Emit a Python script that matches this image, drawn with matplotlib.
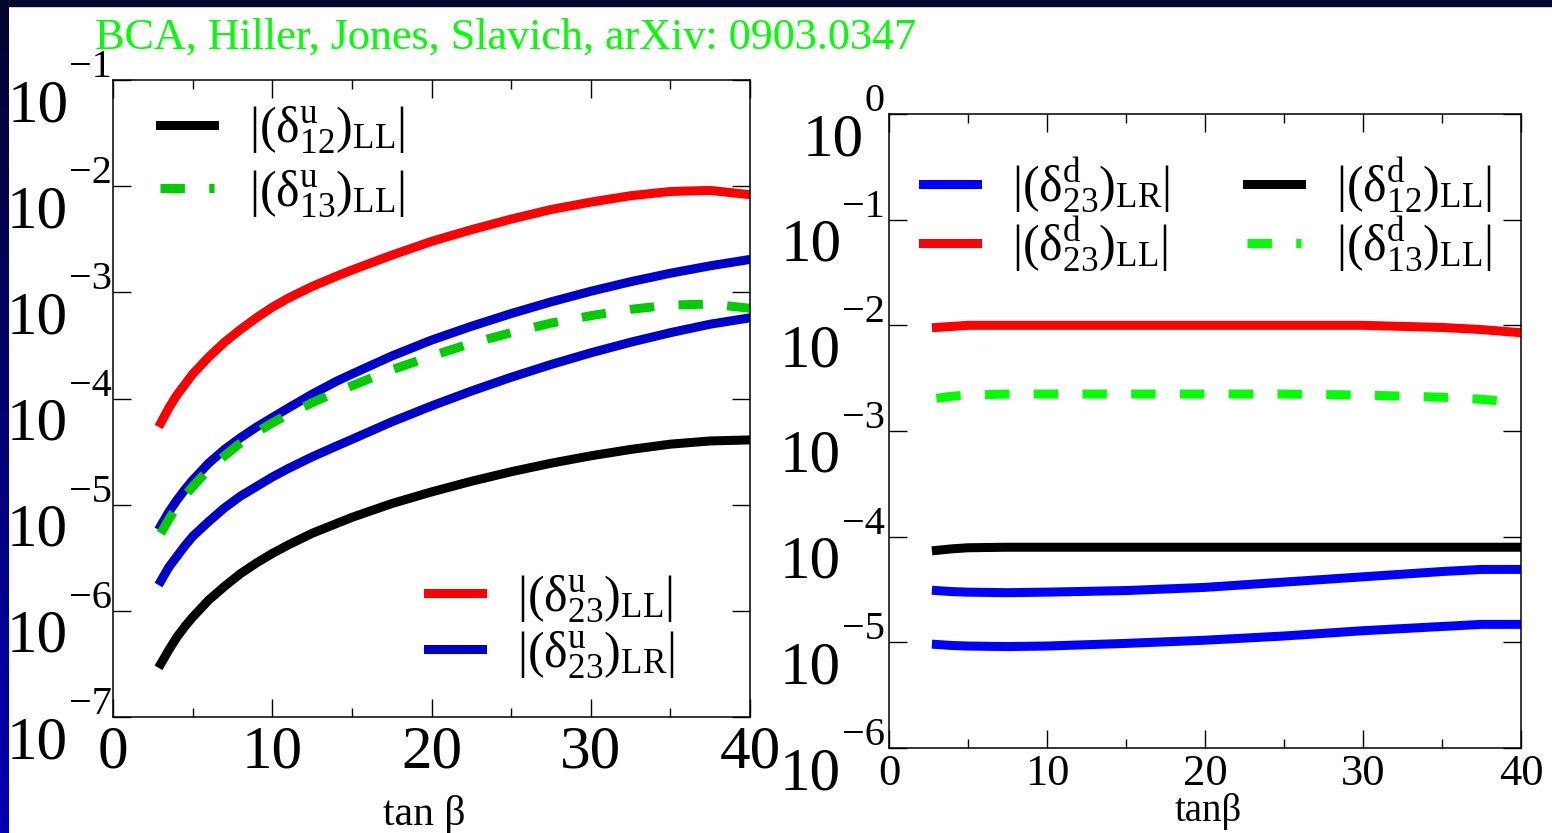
import numpy as np
import matplotlib.pyplot as plt
from matplotlib.patches import Rectangle
from matplotlib.colors import LinearSegmentedColormap
from matplotlib.ticker import MultipleLocator, FixedLocator, NullLocator, NullFormatter

plt.rcParams['font.family'] = 'Liberation Serif'
plt.rcParams['mathtext.fontset'] = 'custom'
plt.rcParams['mathtext.rm'] = 'Liberation Serif'
plt.rcParams['mathtext.it'] = 'Liberation Serif:italic'
plt.rcParams['mathtext.bf'] = 'Liberation Serif:bold'

# ---- left panel: up-squark insertions, log10 |delta| vs tan(beta)
tb_u = [3, 3.5, 4, 4.5, 5, 5.5, 6, 7, 8, 9, 10, 11, 12.5, 14, 15, 17.5, 20,
        22.5, 25, 27.5, 30, 32.5, 35, 37.5, 40]
u23_LL = [-4.23, -4.09, -3.97, -3.87, -3.77, -3.69, -3.61, -3.47, -3.35, -3.24, -3.14,
          -3.055, -2.945, -2.85, -2.79, -2.65, -2.52, -2.41, -2.31, -2.22, -2.15,
          -2.09, -2.05, -2.04, -2.08]
u23_LR_a = [-5.20, -5.07, -4.96, -4.86, -4.77, -4.69, -4.61, -4.48, -4.37, -4.27, -4.18,
            -4.09, -3.96, -3.84, -3.77, -3.60, -3.45, -3.32, -3.20, -3.09, -2.99,
            -2.90, -2.82, -2.75, -2.69]
u23_LR_b = [-5.72, -5.59, -5.49, -5.39, -5.30, -5.23, -5.16, -5.03, -4.92, -4.83, -4.74,
            -4.66, -4.55, -4.45, -4.385, -4.22, -4.07, -3.93, -3.80, -3.68, -3.57,
            -3.47, -3.38, -3.30, -3.24]
u12_LL = [-6.50, -6.37, -6.25, -6.15, -6.06, -5.98, -5.90, -5.77, -5.65, -5.55, -5.46,
          -5.38, -5.27, -5.18, -5.12, -4.99, -4.88, -4.78, -4.69, -4.61, -4.54,
          -4.48, -4.43, -4.40, -4.39]
u13_LL = [-5.27, -5.14, -5.02, -4.92, -4.83, -4.75, -4.67, -4.54, -4.42, -4.32, -4.23,
          -4.15, -4.04, -3.94, -3.88, -3.73, -3.60, -3.48, -3.38, -3.29, -3.22,
          -3.16, -3.12, -3.11, -3.15]

# ---- right panel: down-squark insertions
tb_d = [3, 4, 5, 7.5, 10, 15, 20, 25, 30, 35, 37.5, 40]
d23_LL = [-2.02, -2.01, -2.00, -2.00, -2.00, -2.00, -2.00, -2.00, -2.00, -2.02, -2.04, -2.07]
d13_LL = [-2.69, -2.67, -2.66, -2.65, -2.65, -2.65, -2.65, -2.65, -2.66, -2.68, -2.70, -2.73]
d12_LL = [-4.13, -4.115, -4.105, -4.10, -4.10, -4.10, -4.10, -4.10, -4.10, -4.10, -4.10, -4.10]
d23_LR_a = [-4.51, -4.52, -4.525, -4.53, -4.525, -4.51, -4.48, -4.43, -4.38, -4.33, -4.31, -4.31]
d23_LR_b = [-5.02, -5.03, -5.035, -5.04, -5.035, -5.01, -4.98, -4.94, -4.89, -4.85, -4.83, -4.83]

W, H = 1552, 833
fig = plt.figure(figsize=(W / 100, H / 100), dpi=100)
fig.patch.set_facecolor('white')

# slide frame: dark strip on top, blue gradient strip on the left
fig.add_artist(Rectangle((0, 1 - 6 / H), 1, 6 / H, transform=fig.transFigure,
                         color='#05052e', zorder=0))
band = fig.add_axes([0, 0, 9 / W, 1 - 6 / H])
band.imshow(np.linspace(0, 1, 256)[:, None], aspect='auto',
            cmap=LinearSegmentedColormap.from_list('slide', ['#05052e', '#0000b5']))
band.axis('off')

axL = fig.add_axes([113 / W, (H - 717) / H, 637 / W, 637 / H])
axR = fig.add_axes([889 / W, (H - 748) / H, 632 / W, 634 / H])

LW = 6.5


def lin(v):
    return 10.0 ** np.asarray(v)


lL_red, = axL.plot(tb_u, lin(u23_LL), color='#ff0000', lw=LW)
lL_blue, = axL.plot(tb_u, lin(u23_LR_a), color='#0000cc', lw=LW)
axL.plot(tb_u, lin(u23_LR_b), color='#0000cc', lw=LW)
lL_black, = axL.plot(tb_u, lin(u12_LL), color='black', lw=LW)
lL_green, = axL.plot(tb_u, lin(u13_LL), color='#00cc00', lw=LW, dashes=(2.7, 2.7))

lR_red, = axR.plot(tb_d, lin(d23_LL), color='#ff0000', lw=LW)
lR_blue, = axR.plot(tb_d, lin(d23_LR_a), color='#0000ff', lw=LW)
axR.plot(tb_d, lin(d23_LR_b), color='#0000ff', lw=LW)
lR_black, = axR.plot(tb_d, lin(d12_LL), color='black', lw=LW)
lR_green, = axR.plot(tb_d, lin(d13_LL), color='#00ff00', lw=LW, dashes=(2.7, 2.7))

for ax, lo, hi, xfs in [(axL, -7, -1, 44), (axR, -6, 0, 32)]:
    ax.set_yscale('log')
    ax.set_xlim(0, 40)
    ax.set_ylim(10.0 ** lo, 10.0 ** hi)
    ax.xaxis.set_major_locator(MultipleLocator(10))
    ax.xaxis.set_minor_locator(MultipleLocator(5))
    ax.yaxis.set_major_locator(FixedLocator(10.0 ** np.arange(lo, hi + 1)))
    ax.yaxis.set_minor_locator(NullLocator())
    ax.yaxis.set_major_formatter(NullFormatter())
    ax.tick_params(which='major', direction='in', length=13, width=1,
                   top=True, right=True, labelsize=xfs)
    ax.tick_params(which='minor', direction='in', length=6.5, width=1, top=True)
    for sp in ax.spines.values():
        sp.set_linewidth(1.1)

axL.tick_params(axis='x', pad=6)
axR.tick_params(axis='x', pad=4)

# decade labels drawn like the original: big "10" with the exponent up at the tick
renderer = fig.canvas.get_renderer()


def decade_labels(ax, lo, hi, gap):
    tr = ax.get_yaxis_transform()
    for k in range(lo, hi + 1):
        s = str(k) if k >= 0 else '\u2212' + str(-k)
        e = ax.annotate(s, xy=(0, 10.0 ** k), xycoords=tr, xytext=(-gap, 3),
                        textcoords='offset pixels', ha='right', va='baseline',
                        fontsize=29, annotation_clip=False)
        w = e.get_window_extent(renderer).width
        ax.annotate('10', xy=(0, 10.0 ** k), xycoords=tr, xytext=(-gap - w - 1, -41),
                    textcoords='offset pixels', ha='right', va='baseline',
                    fontsize=44, annotation_clip=False)


decade_labels(axL, -7, -1, 1)
decade_labels(axR, -6, 0, 4)

axL.set_xlabel('tan \u03b2', fontsize=30, va='baseline')
axL.xaxis.set_label_coords(0.488, -(825 - 717) / 637)
axR.set_xlabel('tan\u03b2', fontsize=28, va='baseline')
axR.xaxis.set_label_coords(0.505, -(821 - 748) / 634)


def lab(q, ij, ch):
    return r'$|(\mathrm{\delta}^{\mathrm{%s}}_{%s})_{\mathrm{%s}}|$' % (q, ij, ch)


leg_kw = dict(frameon=False, fontsize=36, handlelength=1.08, handletextpad=0.7,
              borderpad=0, borderaxespad=0, loc='center left')

leg1 = axL.legend([lL_black, lL_green], [lab('u', '12', 'LL'), lab('u', '13', 'LL')],
                  bbox_to_anchor=(0.0738, 0.872), labelspacing=0.25, **leg_kw)
axL.add_artist(leg1)
axL.legend([lL_red, lL_blue], [lab('u', '23', 'LL'), lab('u', '23', 'LR')],
           bbox_to_anchor=(0.4945, 0.142), labelspacing=0.12, **leg_kw)

axR.legend([lR_blue, lR_red, lR_black, lR_green],
           [lab('d', '23', 'LR'), lab('d', '23', 'LL'), lab('d', '12', 'LL'), lab('d', '13', 'LL')],
           bbox_to_anchor=(0.0538, 0.8415), ncol=2, labelspacing=0.0,
           columnspacing=1.54, **leg_kw)

fig.text(95 / W, 1 - 49 / H, 'BCA, Hiller, Jones, Slavich, arXiv: 0903.0347',
         color='#00ff00', fontsize=31.8, va='baseline', ha='left')

fig.savefig('out.png', dpi=100, facecolor=fig.get_facecolor())
